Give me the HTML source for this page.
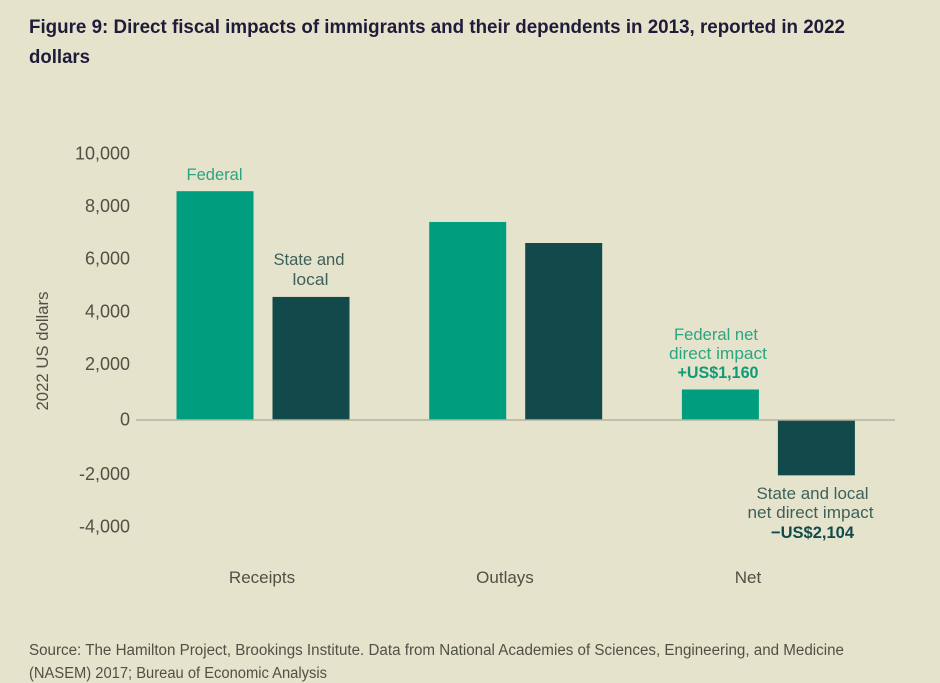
<!DOCTYPE html>
<html lang="en">
<head>
<meta charset="utf-8">
<title>Figure 9</title>
<style>
html,body{margin:0;padding:0;background:#e6e3cd;}
#chart{display:block;width:940px;height:683px;font-family:"Liberation Sans",sans-serif;}
text{font-family:"Liberation Sans",sans-serif;}
</style>
</head>
<body>
<svg id="chart" xmlns="http://www.w3.org/2000/svg" width="940" height="683" viewBox="0 0 940 683">
  <rect x="0" y="0" width="940" height="683" fill="#e6e3cd"/>
  <text x="29" y="33" font-size="19.5" font-weight="700" fill="#1f1c3a" textLength="816" lengthAdjust="spacingAndGlyphs">Figure 9: Direct fiscal impacts of immigrants and their dependents in 2013, reported in 2022</text>
  <text x="29" y="63" font-size="19.5" font-weight="700" fill="#1f1c3a" textLength="61" lengthAdjust="spacingAndGlyphs">dollars</text>
  <text transform="translate(48,351) rotate(-90)" text-anchor="middle" font-size="17" fill="#4f5145" textLength="119" lengthAdjust="spacingAndGlyphs">2022 US dollars</text>
  <g id="ticks"></g>
  <g id="bars"></g>
  <line x1="136" x2="895" y1="420" y2="420" stroke="#b4b3a0" stroke-width="1.5"/>
  <g id="cats"></g>

  <text x="214.5" y="180" text-anchor="middle" font-size="17" fill="#2ba580" textLength="56" lengthAdjust="spacingAndGlyphs">Federal</text>
  <text x="309" y="265" text-anchor="middle" font-size="17" fill="#3d6059" textLength="71" lengthAdjust="spacingAndGlyphs">State and</text>
  <text x="310.5" y="285" text-anchor="middle" font-size="17" fill="#3d6059" textLength="36" lengthAdjust="spacingAndGlyphs">local</text>

  <text x="716" y="340" text-anchor="middle" font-size="17" fill="#2ba580" textLength="84" lengthAdjust="spacingAndGlyphs">Federal net</text>
  <text x="718" y="359" text-anchor="middle" font-size="17" fill="#2ba580" textLength="98" lengthAdjust="spacingAndGlyphs">direct impact</text>
  <text x="718" y="378" text-anchor="middle" font-size="17" font-weight="700" fill="#0f9a78" textLength="81" lengthAdjust="spacingAndGlyphs">+US$1,160</text>

  <text x="812.5" y="499" text-anchor="middle" font-size="17" fill="#3d6059" textLength="112" lengthAdjust="spacingAndGlyphs">State and local</text>
  <text x="810.5" y="518" text-anchor="middle" font-size="17" fill="#3d6059" textLength="126" lengthAdjust="spacingAndGlyphs">net direct impact</text>
  <text x="812.5" y="538" text-anchor="middle" font-size="17" font-weight="700" fill="#12494a" textLength="83" lengthAdjust="spacingAndGlyphs">−US$2,104</text>

  <text x="29" y="655" font-size="15.5" fill="#4f5145" textLength="815" lengthAdjust="spacingAndGlyphs">Source: The Hamilton Project, Brookings Institute. Data from National Academies of Sciences, Engineering, and Medicine</text>
  <text x="29" y="678" font-size="15.5" fill="#4f5145" textLength="298" lengthAdjust="spacingAndGlyphs">(NASEM) 2017; Bureau of Economic Analysis</text>
</svg>
<script>
const categories = ['Receipts', 'Outlays', 'Net'];
const federalValues = [8700, 7530, 1160];
const stateLocalValues = [4680, 6730, -2104];
const tickValues = [10000, 8000, 6000, 4000, 2000, 0, -2000, -4000];
const tickLabels = ['10,000', '8,000', '6,000', '4,000', '2,000', '0', '-2,000', '-4,000'];

const NS = 'http://www.w3.org/2000/svg';
const ZERO_Y = 420, PX_PER_UNIT = 0.0263;
const GROUP_START = 176.5, GROUP_STEP = 252.7, BAR_W = 77, BAR_GAP = 96;
const CAT_START = 262, CAT_STEP = 243;

function yScale(v) { return ZERO_Y - v * PX_PER_UNIT; }
function groupX(i) { return GROUP_START + i * GROUP_STEP; }
function catX(i) { return CAT_START + i * CAT_STEP; }
function tickCenterY(v) { return yScale(v) + (v > 0 ? -4 : v === 0 ? -1 : 1); }

const tickGroup = document.getElementById('ticks');
tickValues.forEach(function (v, i) {
  const t = document.createElementNS(NS, 'text');
  
  
  t.setAttribute('x', 130);
  t.setAttribute('y', tickCenterY(v) + 6.5);
  t.setAttribute('text-anchor', 'end');
  t.setAttribute('font-size', '18');
  t.setAttribute('fill', '#4f5145');
  t.textContent = tickLabels[i];
  tickGroup.appendChild(t);
});

const barGroup = document.getElementById('bars');
function drawBar(x, v, fill, name) {
  const r = document.createElementNS(NS, 'rect');
  
  
  r.setAttribute('x', x);
  r.setAttribute('y', Math.min(yScale(v), ZERO_Y));
  r.setAttribute('width', BAR_W);
  r.setAttribute('height', Math.abs(yScale(v) - ZERO_Y));
  r.setAttribute('fill', fill);
  barGroup.appendChild(r);
}
categories.forEach(function (c, i) {
  drawBar(groupX(i), federalValues[i], '#009e7e', 'bar-federal');
  drawBar(groupX(i) + BAR_GAP, stateLocalValues[i], '#12494a', 'bar-state-local');
});

const catGroup = document.getElementById('cats');
categories.forEach(function (c, i) {
  const t = document.createElementNS(NS, 'text');
  
  
  t.setAttribute('x', catX(i));
  t.setAttribute('y', 583);
  t.setAttribute('text-anchor', 'middle');
  t.setAttribute('font-size', '17');
  t.setAttribute('fill', '#4f5145');
  t.textContent = c;
  catGroup.appendChild(t);
});
</script>
</body>
</html>
